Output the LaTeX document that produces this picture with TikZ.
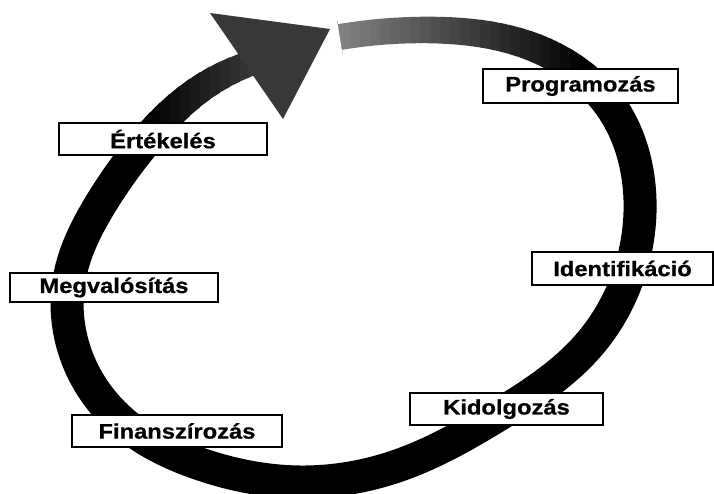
\documentclass[tikz,border=0pt]{standalone}
\usepackage{fontspec}
\usetikzlibrary{hobby}
\newfontfamily\lab[FakeStretch=1.13,FakeBold=0.8]{Liberation Sans}
\begin{document}
\begin{tikzpicture}[x=1pt,y=-1pt,
  band/.style={line width=33pt, line cap=butt, line join=round, use Hobby shortcut},
  ringpath/.style={insert path={(340,37) .. (430,30) .. (540,50) .. (610,105) .. (640,200) .. (625,285) .. (587,347) .. (500,414) .. (400,465) .. (300,482) .. (200,464) .. (120,420) .. (76,355) .. (70,275) .. (100,205) .. (145,142) .. (195,93) .. (252,63)}},
  stage/.style={draw=black, line width=1.2pt, fill=white, inner sep=0pt,
    font=\lab\bfseries\fontsize{21}{24}\selectfont}]
\useasboundingbox (0,0) rectangle (714,494);
\fill[white] (0,0) rectangle (714,494);
\clip (0,0) rectangle (714,494);
% the cycle band
\draw[band, draw=black] [ringpath];
% thinner, fading start of the band (gray to black)
\foreach \i in {0,...,27} {
  \pgfmathsetmacro\xa{340+10*\i-20*(\i==0)}
  \pgfmathsetmacro\xb{350.5+10*\i}
  \pgfmathsetmacro\pct{50+50*min(\i/24,1)}
  \pgfmathsetmacro\wd{26+6*(\i/27)^2}
  \begin{scope}
    \clip (\xa,0) rectangle (\xb,70);
    \draw[band, line width=35pt, draw=white] [ringpath];
    \draw[band, line width=\wd pt, draw=black!\pct] [ringpath];
  \end{scope}
}
% shaft toward the head (black to dark gray, narrowing)
\foreach \i in {0,...,11} {
  \pgfmathsetmacro\xa{140+10*\i}
  \pgfmathsetmacro\xb{150.5+10*\i}
  \pgfmathsetmacro\pct{100-22*\i/11}
  \pgfmathsetmacro\wd{32-7*\i/11}
  \begin{scope}
    \clip (\xa,30) rectangle (\xb,123);
    \draw[band, line width=35pt, draw=white] [ringpath];
    \draw[band, line width=\wd pt, draw=black!\pct] [ringpath];
  \end{scope}
}
% arrow head
\fill[black!78] (210,13) -- (330,29) -- (283,119) -- cycle;
% stage labels
\node[stage, minimum width=195pt, minimum height=34pt] (prog) at (580.5,86) {Programozás};
\node[stage, minimum width=208pt, minimum height=32pt] (ert) at (163,139) {Értékelés};
\node[stage, minimum width=208pt, minimum height=29pt] (megv) at (114,287.5) {Megvalósítás};
\node[stage, minimum width=181pt, minimum height=33pt] (ident) at (622.5,268.5) {Identifikáció};
\node[stage, minimum width=193pt, minimum height=32pt] (kid) at (506.5,409) {Kidolgozás};
\node[stage, minimum width=210pt, minimum height=32pt] (fin) at (177,431) {Finanszírozás};
\end{tikzpicture}
\end{document}
